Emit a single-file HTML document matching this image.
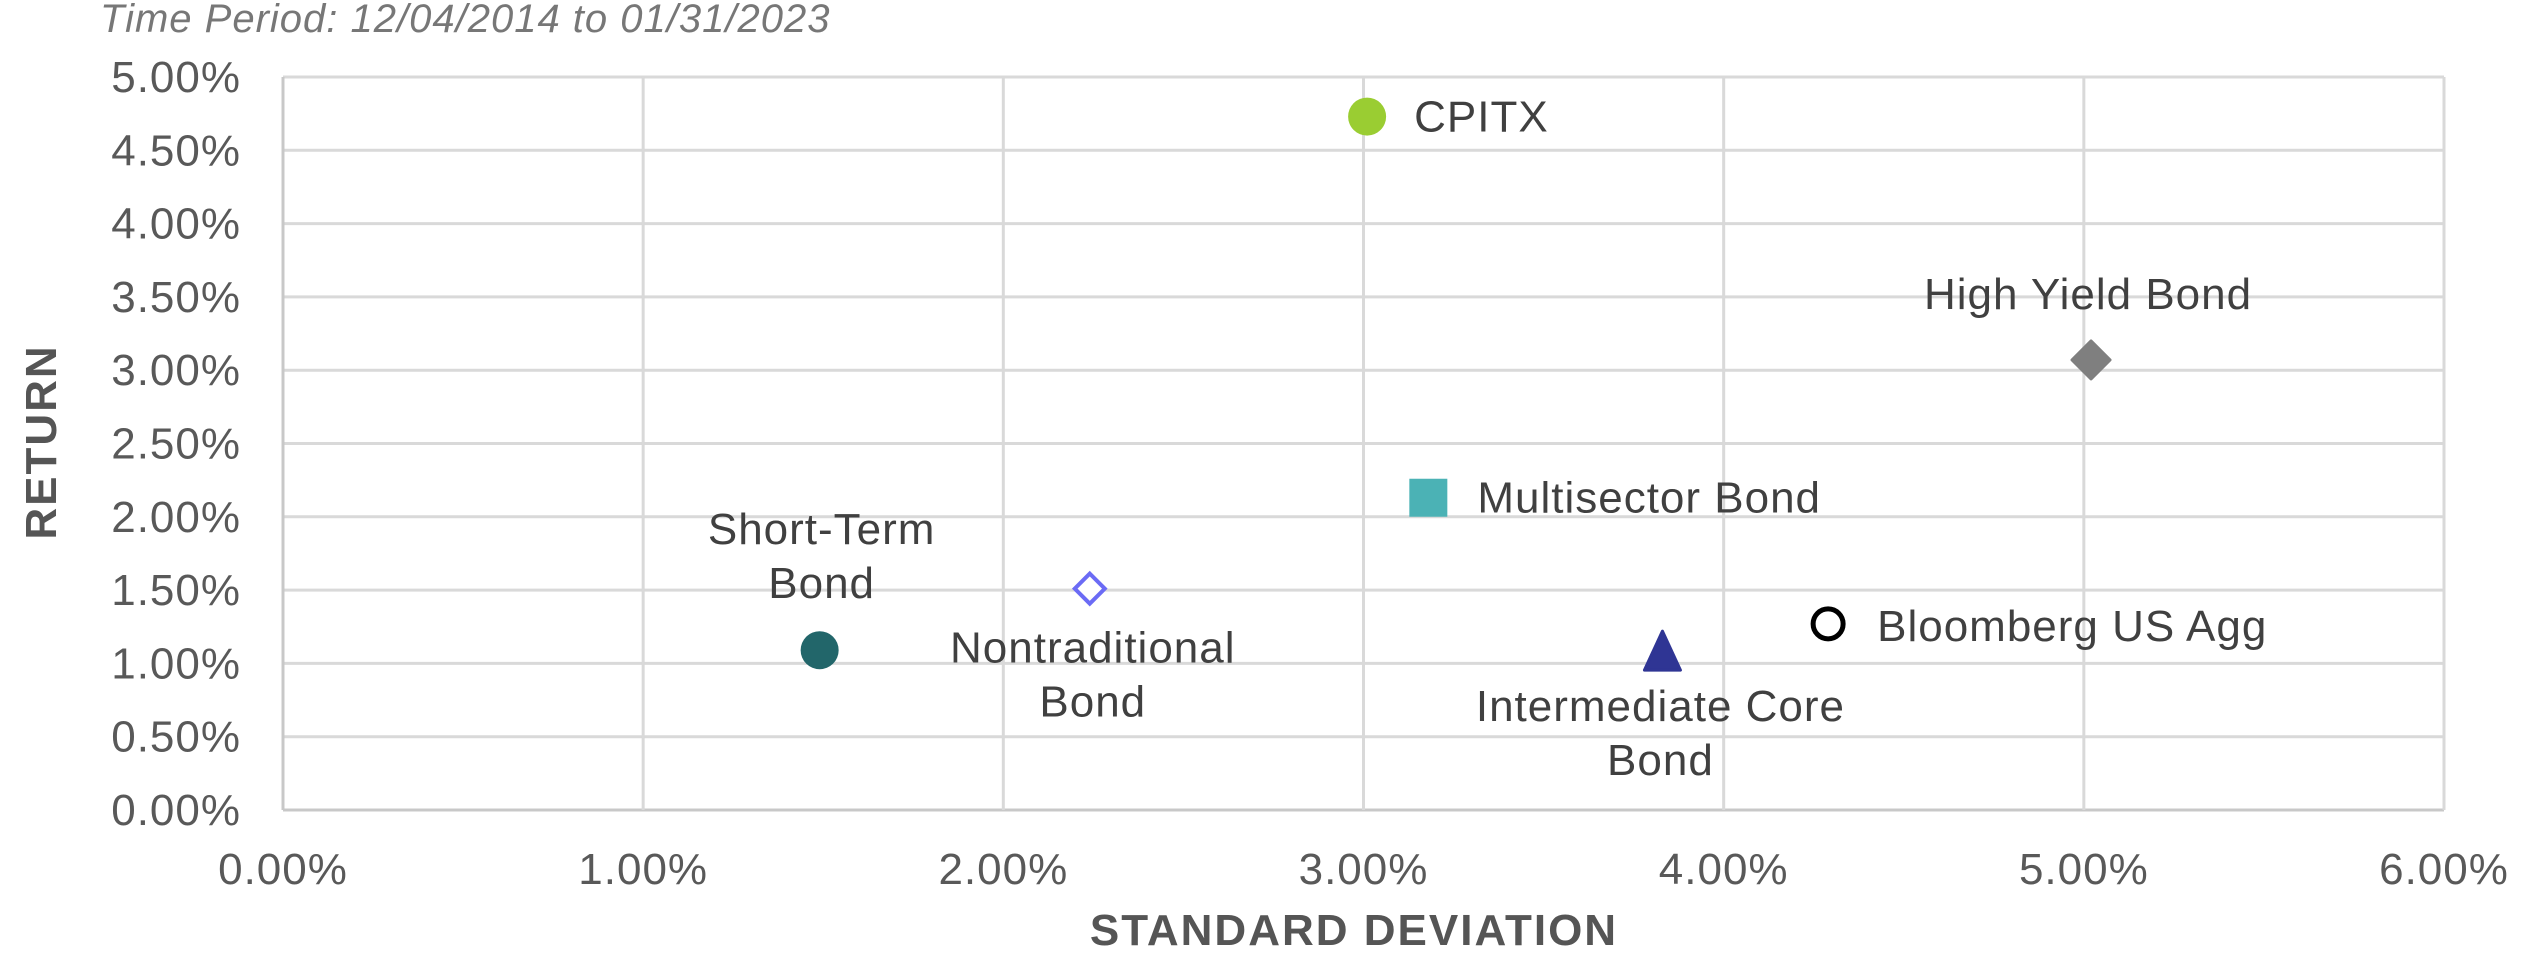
<!DOCTYPE html>
<html><head><meta charset="utf-8"><style>
body{margin:0;background:#fff;}
svg{display:block;font-family:"Liberation Sans",sans-serif;}
</style></head><body>
<svg id="chart" width="2521" height="976" viewBox="0 0 2521 976" xmlns="http://www.w3.org/2000/svg">
<text x="100" y="32" font-size="40" font-style="italic" fill="#777" letter-spacing="1">Time Period: 12/04/2014 to 01/31/2023</text>
<g id="grid"></g>
<g id="ticks"></g>
<text x="1354" y="945" font-size="44" font-weight="bold" fill="#555" text-anchor="middle" letter-spacing="2">STANDARD DEVIATION</text>
<text transform="translate(56,442) rotate(-90)" font-size="44" font-weight="bold" fill="#555" text-anchor="middle" letter-spacing="2">RETURN</text>
<g id="points"></g>
</svg>
<script>
const names=["CPITX","High Yield Bond","Multisector Bond","Short-Term Bond","Nontraditional Bond","Intermediate Core Bond","Bloomberg US Agg"];
const stdDev=[3.01,5.02,3.18,1.49,2.24,3.83,4.29];
const returns=[4.73,3.07,2.13,1.09,1.51,1.07,1.27];
const xTicks=["0.00%","1.00%","2.00%","3.00%","4.00%","5.00%","6.00%"];
const yTicks=["0.00%","0.50%","1.00%","1.50%","2.00%","2.50%","3.00%","3.50%","4.00%","4.50%","5.00%"];
const NS="http://www.w3.org/2000/svg";
const X0=283,X1=2444,Y0=810,Y1=77;
const sx=v=>X0+(v-0)/(6-0)*(X1-X0);
const sy=v=>Y0-(v-0)/(5-0)*(Y0-Y1);
function mk(t,a,p){const e=document.createElementNS(NS,t);for(const k in a)e.setAttribute(k,a[k]);p.appendChild(e);return e;}
const grid=document.getElementById('grid'),ticks=document.getElementById('ticks'),pts=document.getElementById('points');
yTicks.forEach((t,i)=>{const v=i*0.5,y=sy(v);
 const l=mk('line',{x1:X0,x2:X1,y1:y,y2:y,stroke:i==0?'#c8c8c8':'#d9d9d9','stroke-width':3},grid);
 
 
 const tx=mk('text',{x:241,y:y+15,'font-size':44,fill:'#595959','text-anchor':'end','letter-spacing':1},ticks);tx.textContent=t;
 
 
});
xTicks.forEach((t,i)=>{const x=sx(i);
 const l=mk('line',{x1:x,x2:x,y1:Y1,y2:Y0,stroke:i==0?'#c8c8c8':'#d9d9d9','stroke-width':3},grid);
 
 
 const tx=mk('text',{x:x,y:884,'font-size':44,fill:'#595959','text-anchor':'middle','letter-spacing':1},ticks);tx.textContent=t;
 
 
});
const labelLines=[["CPITX"],["High Yield Bond"],["Multisector Bond"],["Short-Term","Bond"],["Nontraditional","Bond"],["Intermediate Core","Bond"],["Bloomberg US Agg"]];
const lab=[[47,0,'start'],[-3,-66,'middle'],[49,0,'start'],[2,-121,'middle'],[3,59,'middle'],[-2,53,'middle'],[49,2,'start']];
names.forEach((n,i)=>{const x=sx(stdDev[i]),y=sy(returns[i]);let m;
 if(i==0)m=mk('circle',{cx:x,cy:y,r:19,fill:'#9acd32'},pts);
 else if(i==1)m=mk('path',{d:`M${x} ${y-19}L${x+19} ${y}L${x} ${y+19}L${x-19} ${y}Z`,fill:'#7f7f7f','stroke-linejoin':'round',stroke:'#7f7f7f','stroke-width':3},pts);
 else if(i==2)m=mk('rect',{x:x-19,y:y-19,width:38,height:38,fill:'#4bb2b5'},pts);
 else if(i==3)m=mk('circle',{cx:x,cy:y,r:19,fill:'#22666a'},pts);
 else if(i==4)m=mk('path',{d:`M${x} ${y-15}L${x+15} ${y}L${x} ${y+15}L${x-15} ${y}Z`,fill:'#fff',stroke:'#6b6bf5','stroke-width':4},pts);
 else if(i==5)m=mk('path',{d:`M${x} ${y-22}L${x+18} ${y+17}L${x-18} ${y+17}Z`,fill:'#2f3594',stroke:'#2f3594','stroke-width':3,'stroke-linejoin':'round'},pts);
 else m=mk('circle',{cx:x,cy:y,r:15,fill:'#fff',stroke:'#000','stroke-width':5},pts);
 
 
 const L=labelLines[i],o=lab[i];
 L.forEach((s,j)=>{const t=mk('text',{x:x+o[0],y:y+o[1]+15+j*54,'font-size':44,fill:'#404040','text-anchor':o[2],'letter-spacing':1},pts);t.textContent=s;
  
  
 });
});
</script>
</body></html>
